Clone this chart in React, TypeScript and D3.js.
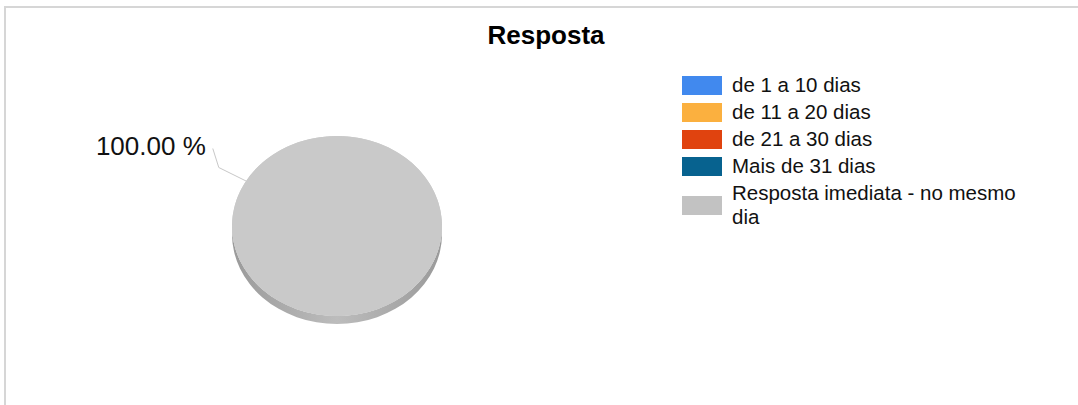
import React from "react";
import * as d3 from "d3";

const title = "Resposta";
const categories = [
  "de 1 a 10 dias",
  "de 11 a 20 dias",
  "de 21 a 30 dias",
  "Mais de 31 dias",
  "Resposta imediata - no mesmo dia",
];
const values = [0, 0, 0, 0, 1];
const colors = ["#4189ee", "#fbb03f", "#e0430f", "#07628f", "#c2c2c2"];

function wrap(s: string, max: number): string[] {
  const words = s.split(" ");
  const lines: string[] = [];
  let cur = "";
  for (const w of words) {
    const next = cur ? cur + " " + w : w;
    if (next.length > max && cur) {
      lines.push(cur);
      cur = w;
    } else cur = next;
  }
  if (cur) lines.push(cur);
  return lines;
}

export default function App() {
  const W = 1078;
  const H = 405;
  const cx = 337;
  const cy = 226;
  const rx = 105;
  const ry = 90;
  const depth = 8;

  const start = (2 * Math.PI) / 3;
  const pie = d3
    .pie<number>()
    .sort(null)
    .value((d) => d)
    .startAngle(start)
    .endAngle(start + 2 * Math.PI);
  const arcs = pie(values);
  const arc = d3.arc<d3.PieArcDatum<number>>().innerRadius(0).outerRadius(rx);
  const total = d3.sum(values);
  const fmt = (v: number) => d3.format(".2f")((v / total) * 100) + " %";

  const sidePath = `M${cx - rx},${cy} A${rx},${ry} 0 0 0 ${cx + rx},${cy} L${cx + rx},${cy + depth} A${rx},${ry} 0 0 1 ${cx - rx},${cy + depth} Z`;

  // legend layout
  const lgX = 682;
  const lgTextX = 732;
  const rowH = 27;
  const lineH = 24;
  const legendRows = categories.map((c, i) => {
    const lines = wrap(c, 28);
    const top = 76 + rowH * i;
    return { c, i, lines, top };
  });

  return (
    <svg
      width={W}
      height={H}
      style={{ position: "absolute", left: 0, top: 0, background: "#fff" }}
      fontFamily="'Liberation Sans', Arial, sans-serif"
    >
      <defs>
        <linearGradient id="side" x1="0" x2="1" y1="0" y2="0">
          <stop offset="0" stopColor="#9a9a9a" />
          <stop offset="0.5" stopColor="#bcbcbc" />
          <stop offset="1" stopColor="#9a9a9a" />
        </linearGradient>
      </defs>
      <rect x={0} y={0} width={W} height={H} fill="#fff" />
      <line x1={4} x2={1078} y1={7} y2={7} stroke="#d6d6d6" strokeWidth={2} />
      <line x1={5} x2={5} y1={6} y2={405} stroke="#d6d6d6" strokeWidth={2} />

      <text x={546} y={44} textAnchor="middle" fontSize={26} fontWeight="bold" fill="#000">
        {title}
      </text>

      <path d={sidePath} fill="url(#side)" />
      <g transform={`translate(${cx},${cy}) scale(1,${ry / rx})`}>
        {arcs
          .filter((a) => a.value > 0)
          .map((a, i) => (
            <path key={i} d={arc(a) || ""} fill={i === 0 ? "#c9c9c9" : colors[a.index]} />
          ))}
        {arcs
          .filter((a) => a.value > 0 && a.endAngle - a.startAngle >= 2 * Math.PI - 1e-6)
          .map((a, i) => (
            <ellipse key={"e" + i} cx={0} cy={0} rx={rx} ry={rx} fill="#c9c9c9" />
          ))}
      </g>

      {arcs
        .filter((a) => a.value > 0)
        .map((a, i) => {
          const mid = (a.startAngle + a.endAngle) / 2;
          const sx = Math.sin(mid);
          const sy = -Math.cos(mid);
          const p0 = [cx + rx * sx, cy + ry * sy];
          const p1 = [cx + rx * 1.3 * sx, cy + ry * 1.3 * sy];
          const p2 = [p1[0] - 6, p1[1] - 19];
          return (
            <g key={"l" + i}>
              <polyline
                points={[p0, p1, p2].map((p) => p.join(",")).join(" ")}
                fill="none"
                stroke="#c8c8c8"
                strokeWidth={1}
              />
              <text x={p2[0] - 7} y={p2[1] + 6} textAnchor="end" fontSize={26} fill="#111">
                {fmt(a.value)}
              </text>
            </g>
          );
        })}

      {legendRows.map((r) => {
        const baseY = r.top + 16;
        const n = r.lines.length;
        const centerY = baseY - 6.5 + ((n - 1) * lineH) / 2;
        return (
          <g key={r.i}>
            <rect x={lgX} y={centerY - 9.5} width={40} height={19} fill={colors[r.i]} />
            <text x={lgTextX} fontSize={20.5} fill="#111">
              {r.lines.map((l, j) => (
                <tspan key={j} x={lgTextX} y={baseY + j * lineH}>
                  {l}
                </tspan>
              ))}
            </text>
          </g>
        );
      })}
    </svg>
  );
}
